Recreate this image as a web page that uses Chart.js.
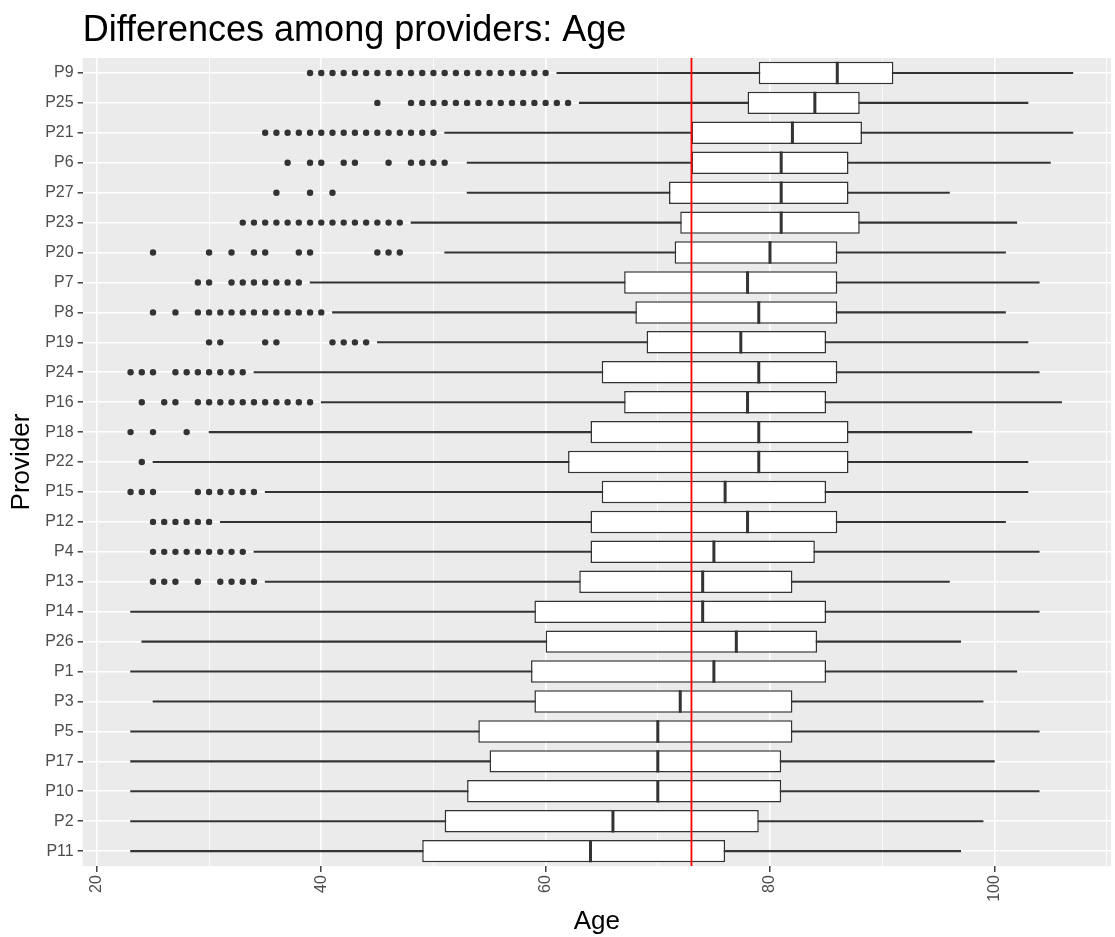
<!DOCTYPE html>
<html>
<head>
<meta charset="utf-8">
<title>Differences among providers: Age</title>
<script src="https://cdn.jsdelivr.net/npm/chart.js@4.4.1/dist/chart.umd.min.js"></script>
<style>
  html, body { margin: 0; padding: 0; background: #ffffff; }
  #chart { display: block; }
</style>
</head>
<body>
<canvas id="chart" width="1115" height="937"></canvas>
<script>
// Providers, top to bottom as in the plot
const providers = ['P9', 'P25', 'P21', 'P6', 'P27', 'P23', 'P20', 'P7', 'P8', 'P19', 'P24', 'P16', 'P18', 'P22',
    'P15', 'P12', 'P4', 'P13', 'P14', 'P26', 'P1', 'P3', 'P5', 'P17', 'P10', 'P2', 'P11'];

// Box statistics (Age)
const whiskerLow = [61, 63, 51, 53, 53, 48, 51, 39, 41, 45, 34, 40, 30, 25, 35, 31, 34, 35, 23, 24, 23, 25, 23, 23, 23, 23, 23];
const q1 = [79, 78, 73, 73, 71, 72, 71.5, 67, 68, 69, 65, 67, 64, 62, 65, 64, 64, 63, 59, 60, 58.7, 59, 54, 55, 53, 51, 49];
const median = [86, 84, 82, 81, 81, 81, 80, 78, 79, 77.4, 79, 78, 79, 79, 76, 78, 75, 74, 74, 77, 75, 72, 70, 70, 70, 66, 64];
const q3 = [91, 88, 88.2, 87, 87, 88, 86, 86, 86, 85, 86, 85, 87, 87, 85, 86, 84, 82, 85, 84.2, 85, 82, 82, 81, 81, 79, 76];
const whiskerHigh = [107, 103, 107, 105, 96, 102, 101, 104, 101, 103, 104, 106, 98, 103, 103, 101, 104, 96, 104, 97, 102, 99, 104, 100, 104, 99, 97];

// Outlying ages per provider
const outliers = [
    [39, 40, 41, 42, 43, 44, 45, 46, 47, 48, 49, 50, 51, 52, 53, 54, 55, 56, 57, 58, 59, 60],
    [45, 48, 49, 50, 51, 52, 53, 54, 55, 56, 57, 58, 59, 60, 61, 62],
    [35, 36, 37, 38, 39, 40, 41, 42, 43, 44, 45, 46, 47, 48, 49, 50],
    [37, 39, 40, 42, 43, 46, 48, 49, 50, 51],
    [36, 39, 41],
    [33, 34, 35, 36, 37, 38, 39, 40, 41, 42, 43, 44, 45, 46, 47],
    [25, 30, 32, 34, 35, 38, 39, 45, 46, 47],
    [29, 30, 32, 33, 34, 35, 36, 37, 38],
    [25, 27, 29, 30, 31, 32, 33, 34, 35, 36, 37, 38, 39, 40],
    [30, 31, 35, 36, 41, 42, 43, 44],
    [23, 24, 25, 27, 28, 29, 30, 31, 32, 33],
    [24, 26, 27, 29, 30, 31, 32, 33, 34, 35, 36, 37, 38, 39],
    [23, 25, 28],
    [24],
    [23, 24, 25, 29, 30, 31, 32, 33, 34],
    [25, 26, 27, 28, 29, 30],
    [25, 26, 27, 28, 29, 30, 31, 32, 33],
    [25, 26, 27, 29, 31, 32, 33, 34],
    [], [], [], [], [], [], [], [], []
];

// Reference line (overall mean age)
const refAge = 73;

// Age axis: grid positions and the labelled (major) ticks
const ageGrid = [20, 30, 40, 50, 60, 70, 80, 90, 100, 110];
const ageLabels = [20, 40, 60, 80, 100];

const FONT = "'Liberation Sans', Arial, sans-serif";
const INK = '#333333';

// Grey ggplot panel behind the grid
const panelBackground = {
    id: 'panelBackground',
    beforeDraw(chart) {
        const { ctx, chartArea } = chart;
        ctx.save();
        ctx.fillStyle = '#EBEBEB';
        ctx.fillRect(chartArea.left, chartArea.top, chartArea.right - chartArea.left, chartArea.bottom - chartArea.top);
        ctx.restore();
    }
};

// Red vertical reference line
const meanLine = {
    id: 'meanLine',
    afterDatasetsDraw(chart) {
        const { ctx, chartArea, scales } = chart;
        const x = scales.x.getPixelForValue(refAge);
        ctx.save();
        ctx.strokeStyle = '#FF0000';
        ctx.lineWidth = 1.8;
        ctx.beginPath();
        ctx.moveTo(x, chartArea.top);
        ctx.lineTo(x, chartArea.bottom);
        ctx.stroke();
        ctx.restore();
    }
};

// Title aligned with the panel, like ggplot
const plotTitle = {
    id: 'plotTitle',
    afterDraw(chart) {
        const { ctx, chartArea } = chart;
        ctx.save();
        ctx.fillStyle = '#000000';
        ctx.font = '36px ' + FONT;
        ctx.textBaseline = 'alphabetic';
        ctx.textAlign = 'left';
        ctx.fillText('Differences among providers: Age', chartArea.left, 41);
        ctx.restore();
    }
};

function halfBox(ctx) {
    const y = ctx.chart.scales.y;
    if (!y) return 11;
    return Math.abs(y.getPixelForValue(1) - y.getPixelForValue(0)) * 0.75 / 2;
}

function isMajor(c) {
    return c.tick && ageLabels.includes(c.tick.value);
}

const outlierPoints = [];
outliers.forEach((vals, i) => {
    vals.forEach(v => outlierPoints.push({ x: v, y: providers[i] }));
});

new Chart(document.getElementById('chart'), {
    type: 'bar',
    data: {
        labels: providers,
        datasets: [
            {
                // whiskers: one thin bar from low to high
                label: 'whiskers',
                data: providers.map((p, i) => [whiskerLow[i], whiskerHigh[i]]),
                backgroundColor: INK,
                barThickness: 1.4,
                grouped: false,
                order: 4
            },
            {
                label: 'boxes',
                data: providers.map((p, i) => [q1[i], q3[i]]),
                backgroundColor: '#FFFFFF',
                borderColor: INK,
                borderWidth: 1.5,
                borderSkipped: false,
                barPercentage: 0.75,
                categoryPercentage: 1,
                grouped: false,
                order: 3
            },
            {
                label: 'median',
                type: 'scatter',
                data: providers.map((p, i) => ({ x: median[i], y: p })),
                pointStyle: 'line',
                rotation: 90,
                radius: halfBox,
                hoverRadius: halfBox,
                borderColor: INK,
                borderWidth: 3,
                order: 2
            },
            {
                label: 'outliers',
                type: 'scatter',
                data: outlierPoints,
                pointStyle: 'circle',
                radius: 3.2,
                backgroundColor: INK,
                borderWidth: 0,
                order: 1
            }
        ]
    },
    options: {
        indexAxis: 'y',
        responsive: false,
        animation: false,
        events: [],
        layout: { padding: { top: 58, left: 6, right: 0, bottom: 0 } },
        plugins: {
            legend: { display: false },
            tooltip: { enabled: false },
            title: { display: false }
        },
        scales: {
            x: {
                type: 'linear',
                min: 18.73,
                max: 110.4,
                afterBuildTicks: axis => {
                    axis.ticks = ageGrid.map(v => ({ value: v }));
                },
                afterFit: axis => {
                    // let the panel run to the canvas edge like the ggplot export
                    axis.paddingLeft = 0;
                    axis.paddingRight = 0;
                },
                ticks: {
                    autoSkip: false,
                    minRotation: 90,
                    maxRotation: 90,
                    padding: 3,
                    color: '#4D4D4D',
                    font: { family: FONT, size: 16 },
                    callback: v => (ageLabels.includes(v) ? String(v) : '')
                },
                grid: {
                    color: '#FFFFFF',
                    lineWidth: c => (isMajor(c) ? 1.6 : 0.8),
                    tickColor: c => (isMajor(c) ? INK : 'rgba(0,0,0,0)'),
                    tickLength: 6,
                    tickWidth: 1.4
                },
                border: { display: false },
                title: {
                    display: true,
                    text: 'Age',
                    color: '#000000',
                    font: { family: FONT, size: 26 },
                    padding: { top: 1, bottom: 0 }
                }
            },
            y: {
                type: 'category',
                offset: true,
                ticks: {
                    padding: 4,
                    color: '#4D4D4D',
                    font: { family: FONT, size: 16 }
                },
                grid: {
                    offset: false,
                    color: '#FFFFFF',
                    lineWidth: 1.6,
                    tickColor: INK,
                    tickLength: 5,
                    tickWidth: 1.4
                },
                border: { display: false },
                title: {
                    display: true,
                    text: 'Provider',
                    color: '#000000',
                    font: { family: FONT, size: 26 },
                    padding: { top: 0, bottom: 4 }
                }
            }
        }
    },
    plugins: [panelBackground, meanLine, plotTitle]
});
</script>
</body>
</html>
